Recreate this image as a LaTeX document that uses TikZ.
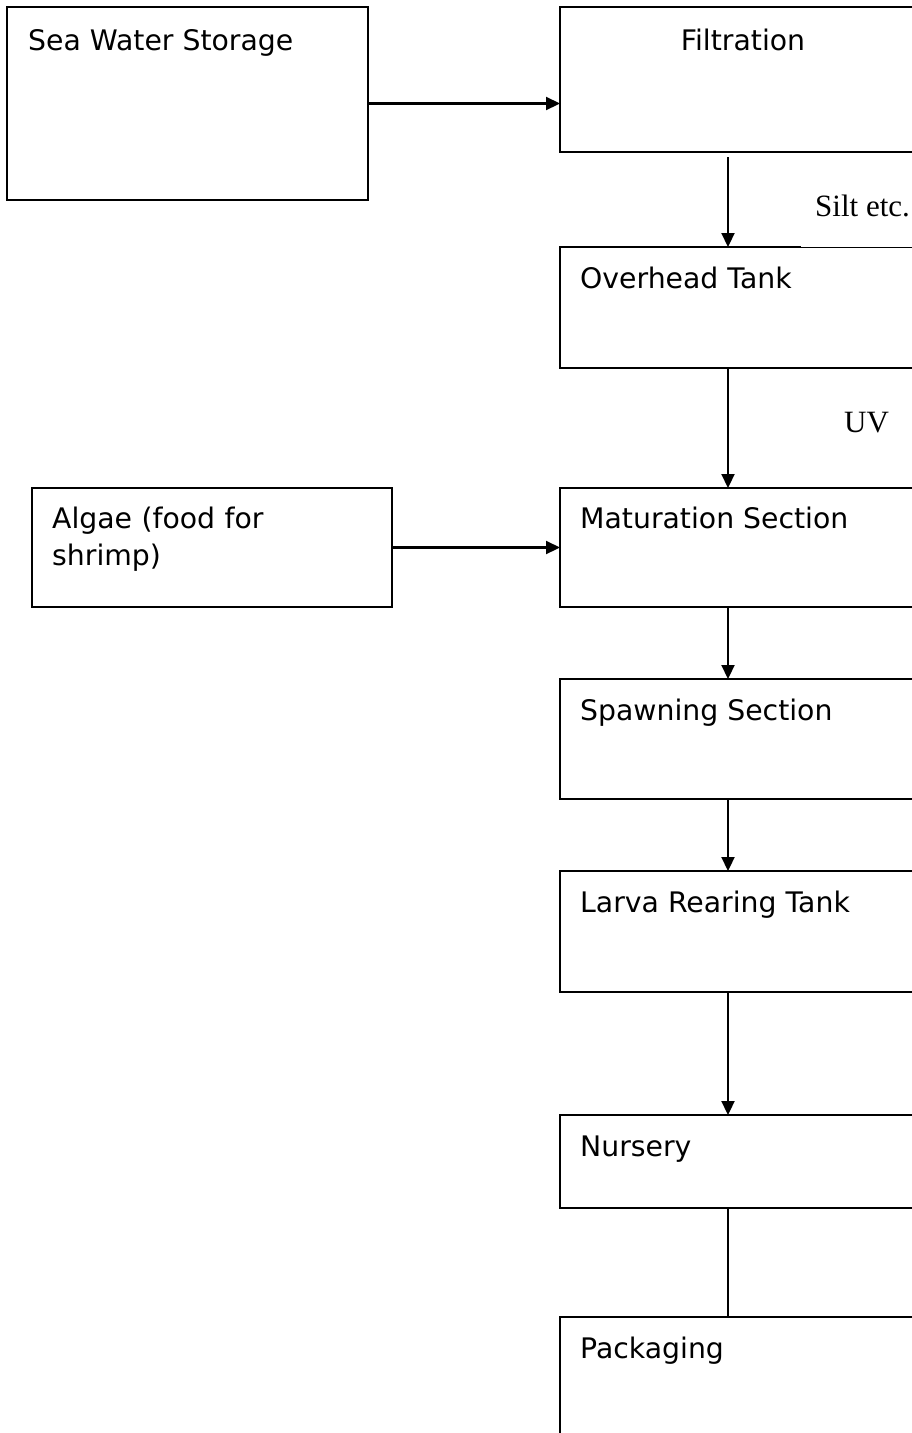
\documentclass[tikz,border=0pt]{standalone}
\usepackage{fontspec}
\setmainfont{DejaVu Sans}
\newfontfamily\serifnote{Liberation Serif}
\usetikzlibrary{arrows.meta}
\tikzset{
  box/.style={draw, line width=2.2pt, rectangle, inner sep=0pt, outer sep=0pt, anchor=north west},
  lbl/.style={anchor=base west, inner sep=0pt, font=\fontsize{28.3}{37}\selectfont},
  note/.style={anchor=base west, inner sep=0pt, font=\serifnote\fontsize{31}{36}\selectfont},
  arr/.style={line width=2.2pt, -{Triangle[length=14pt,width=13pt]}},
  link/.style={line width=2.2pt}
}
\begin{document}
\begin{tikzpicture}[x=1pt,y=-1pt]
\useasboundingbox (0,0) rectangle (912,1433);
\clip (0,0) rectangle (912,1433);
% boxes
\node[box, minimum width=361pt, minimum height=193pt] (sws) at (7,7) {};
\node[box, minimum width=366pt, minimum height=145pt] (fil) at (560,7) {};
\node[box, minimum width=380pt, minimum height=121pt] (ovh) at (560,247) {};
\node[box, minimum width=360pt, minimum height=119pt] (alg) at (32,488) {};
\node[box, minimum width=380pt, minimum height=119pt] (mat) at (560,488) {};
\node[box, minimum width=380pt, minimum height=120pt] (spa) at (560,679) {};
\node[box, minimum width=380pt, minimum height=121pt] (lar) at (560,871) {};
\node[box, minimum width=380pt, minimum height=93pt] (nur) at (560,1115) {};
\node[box, minimum width=380pt, minimum height=160pt] (pac) at (560,1317) {};
% thin bottom border of the "Silt etc." text box
\draw[white, line width=2.8pt] (801,247) -- (915,247);
\draw[line width=1pt] (800,247) -- (915,247);
% labels
\node[lbl] (swsT) at (28,50) {Sea Water Storage};
\node[lbl, anchor=base] (filT) at (fil.north |- 0,50) {Filtration};
\node[lbl] (ovhT) at (580,288) {Overhead Tank};
\node[lbl, text width=320pt, align=left] (algT) at (52,528) {Algae (food for shrimp)};
\node[lbl] (matT) at (580,528) {Maturation Section};
\node[lbl] (spaT) at (580,720) {Spawning Section};
\node[lbl] (larT) at (580,912) {Larva Rearing Tank};
\node[lbl] (nurT) at (580,1156) {Nursery};
\node[lbl] (pacT) at (580,1358) {Packaging};
\node[note] (silt) at (815,216) {Silt etc.};
\node[note] (uv) at (844,432) {UV};
% connectors
\coordinate (cx) at (728,0);
\draw[arr] (sws.east) -- (sws.east -| fil.west);
\draw[arr] (alg.east) -- (alg.east -| mat.west);
\draw[arr] ([yshift=-5pt]cx |- fil.south) -- (cx |- ovh.north);
\draw[arr] (cx |- ovh.south) -- (cx |- mat.north);
\draw[arr] (cx |- mat.south) -- (cx |- spa.north);
\draw[arr] (cx |- spa.south) -- (cx |- lar.north);
\draw[arr] (cx |- lar.south) -- (cx |- nur.north);
\draw[link] (cx |- nur.south) -- (cx |- pac.north);
\end{tikzpicture}
\end{document}
